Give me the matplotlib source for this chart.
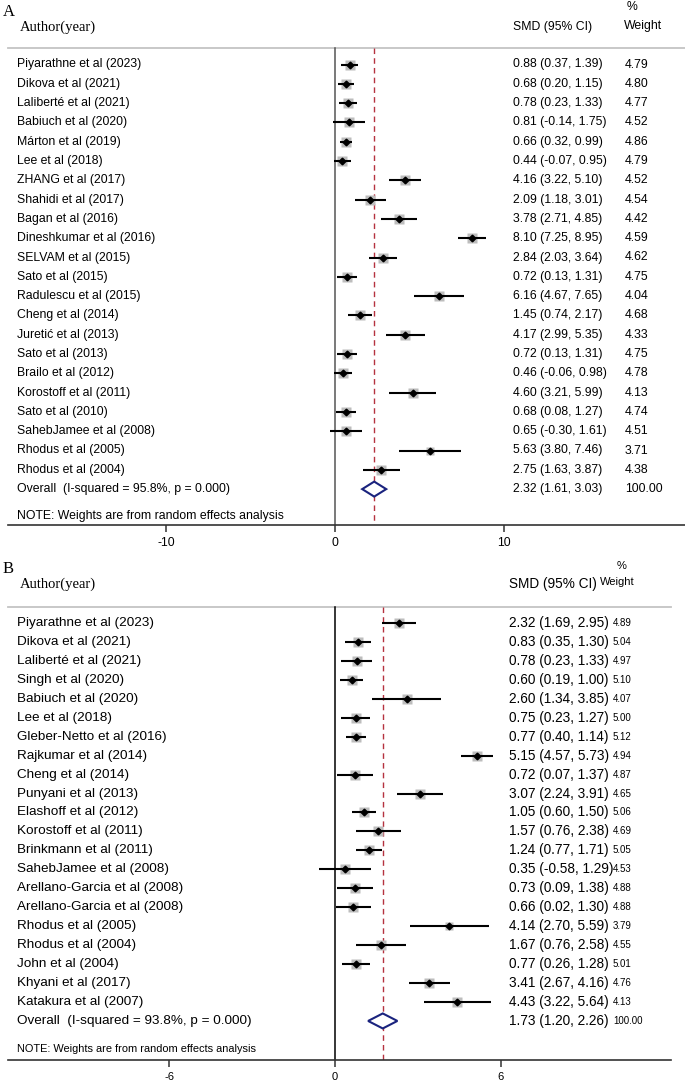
import matplotlib.pyplot as plt
from matplotlib.transforms import blended_transform_factory
from matplotlib.patches import Polygon
import numpy as np

# ---- panel A data ----
a_names = [
    "Piyarathne et al (2023)", "Dikova et al (2021)", "Laliberté et al (2021)",
    "Babiuch et al (2020)", "Márton et al (2019)", "Lee et al (2018)",
    "ZHANG et al (2017)", "Shahidi et al (2017)", "Bagan et al (2016)",
    "Dineshkumar et al (2016)", "SELVAM et al (2015)", "Sato et al (2015)",
    "Radulescu et al (2015)", "Cheng et al (2014)", "Juretić et al (2013)",
    "Sato et al (2013)", "Brailo et al (2012)", "Korostoff et al (2011)",
    "Sato et al (2010)", "SahebJamee et al (2008)", "Rhodus et al (2005)",
    "Rhodus et al (2004)",
]
a_smd = [0.88, 0.68, 0.78, 0.81, 0.66, 0.44, 4.16, 2.09, 3.78, 8.10, 2.84,
         0.72, 6.16, 1.45, 4.17, 0.72, 0.46, 4.60, 0.68, 0.65, 5.63, 2.75]
a_lo = [0.37, 0.20, 0.23, -0.14, 0.32, -0.07, 3.22, 1.18, 2.71, 7.25, 2.03,
        0.13, 4.67, 0.74, 2.99, 0.13, -0.06, 3.21, 0.08, -0.30, 3.80, 1.63]
a_hi = [1.39, 1.15, 1.33, 1.75, 0.99, 0.95, 5.10, 3.01, 4.85, 8.95, 3.64,
        1.31, 7.65, 2.17, 5.35, 1.31, 0.98, 5.99, 1.27, 1.61, 7.46, 3.87]
a_w = [4.79, 4.80, 4.77, 4.52, 4.86, 4.79, 4.52, 4.54, 4.42, 4.59, 4.62,
       4.75, 4.04, 4.68, 4.33, 4.75, 4.78, 4.13, 4.74, 4.51, 3.71, 4.38]
a_overall = (2.32, 1.61, 3.03)
a_overall_label = "Overall  (I-squared = 95.8%, p = 0.000)"
a_ticks = [-10, 0, 10]

# ---- panel B data ----
b_names = [
    "Piyarathne et al (2023)", "Dikova et al (2021)", "Laliberté et al (2021)",
    "Singh et al (2020)", "Babiuch et al (2020)", "Lee et al (2018)",
    "Gleber-Netto et al (2016)", "Rajkumar et al (2014)", "Cheng et al (2014)",
    "Punyani et al (2013)", "Elashoff et al (2012)", "Korostoff et al (2011)",
    "Brinkmann et al (2011)", "SahebJamee et al (2008)",
    "Arellano-Garcia et al (2008)", "Arellano-Garcia et al (2008)",
    "Rhodus et al (2005)", "Rhodus et al (2004)", "John et al (2004)",
    "Khyani et al (2017)", "Katakura et al (2007)",
]
b_smd = [2.32, 0.83, 0.78, 0.60, 2.60, 0.75, 0.77, 5.15, 0.72, 3.07, 1.05,
         1.57, 1.24, 0.35, 0.73, 0.66, 4.14, 1.67, 0.77, 3.41, 4.43]
b_lo = [1.69, 0.35, 0.23, 0.19, 1.34, 0.23, 0.40, 4.57, 0.07, 2.24, 0.60,
        0.76, 0.77, -0.58, 0.09, 0.02, 2.70, 0.76, 0.26, 2.67, 3.22]
b_hi = [2.95, 1.30, 1.33, 1.00, 3.85, 1.27, 1.14, 5.73, 1.37, 3.91, 1.50,
        2.38, 1.71, 1.29, 1.38, 1.30, 5.59, 2.58, 1.28, 4.16, 5.64]
b_w = [4.89, 5.04, 4.97, 5.10, 4.07, 5.00, 5.12, 4.94, 4.87, 4.65, 5.06,
       4.69, 5.05, 4.53, 4.88, 4.88, 3.79, 4.55, 5.01, 4.76, 4.13]
b_overall = (1.73, 1.20, 2.26)
b_overall_label = "Overall  (I-squared = 93.8%, p = 0.000)"
b_ticks = [-6, 0, 6]

W, H = 685, 1082
fig = plt.figure(figsize=(W / 100, H / 100), dpi=100)
SANS = "Liberation Sans"
SERIF = "Liberation Serif"


def panel(letter, names, smd, lo, hi, w, overall, ov_label, ticks, cfg):
    top, bottom = cfg["top"], cfg["bottom"]
    ax = fig.add_axes([0, 1 - bottom / H, 1, (bottom - top) / H])
    ax.patch.set_alpha(0)
    ppu = cfg["ppu"]
    x0 = cfg["x0"]
    ax.set_xlim(-x0 / ppu, (W - x0) / ppu)
    r0, dr = cfg["row0"], cfg["drow"]
    # y in pixel coordinates from the top of the figure
    ax.set_ylim(bottom, top)

    n = len(names)
    ys = r0 + dr * np.arange(n + 1)
    tr = blended_transform_factory(ax.transAxes, ax.transData)
    px = lambda p: p / W

    # header
    ax.text(px(3), cfg["y_letter"], letter, transform=tr, family=SERIF,
            fontsize=12, va="center", ha="left")
    ax.text(px(20), cfg["y_head"], "Author(year)", transform=tr, family=SERIF,
            fontsize=cfg["fs_head"], va="center")
    ax.text(px(cfg["x_smd"]), cfg["y_head"], "SMD (95% CI)", transform=tr,
            family=SANS, fontsize=cfg["fs_smd"], va="center")
    ax.text(px(cfg["x_pct"]), cfg["y_pct"], "%", transform=tr, family=SANS,
            fontsize=cfg["fs_wh"], va="center")
    ax.text(px(cfg["x_wh"]), cfg["y_wh"], "Weight", transform=tr, family=SANS,
            fontsize=cfg["fs_wh"], va="center")
    ax.plot([px(8), px(cfg["x_end"])], [cfg["y_rule"]] * 2, transform=tr,
            color="#c4c4c4", lw=1.3, clip_on=False)

    # reference lines
    ax.plot([0, 0], [cfg["y_rule"], bottom], color=cfg["zero_col"], lw=1.1)
    ax.plot([overall[0]] * 2, [cfg["y_rule"], bottom], color="#b5323f",
            lw=1.0, ls=(0, (4, 3)))

    # studies
    for i in range(n):
        y = ys[i]
        ax.plot(smd[i], y, marker="s", ms=3.25 * np.sqrt(w[i]),
                color="#bdbdbd", mec="none", zorder=2)
        ax.plot([lo[i], hi[i]], [y, y], color="black", lw=1.5,
                solid_capstyle="butt", zorder=3)
        ax.plot(smd[i], y, marker="D", ms=3.4, color="black", zorder=4)
        ax.text(px(17), y, names[i], transform=tr, family=SANS,
                fontsize=cfg["fs_lab"], va="center")
        ax.text(px(cfg["x_smd"]), y, f"{smd[i]:.2f} ({lo[i]:.2f}, {hi[i]:.2f})",
                transform=tr, family=SANS, fontsize=cfg["fs_smd"], va="center")
        ax.text(px(cfg["x_w"]), y, f"{w[i]:.2f}", transform=tr, family=SANS,
                fontsize=cfg["fs_w"], va="center")

    # overall diamond
    yo = ys[n]
    hh = 7.5
    est, olo, ohi = overall
    ax.add_patch(Polygon([[olo, yo], [est, yo - hh], [ohi, yo], [est, yo + hh]],
                         closed=True, fc="white", ec="#1a237e", lw=1.5, zorder=5))
    ax.text(px(17), yo, ov_label, transform=tr, family=SANS,
            fontsize=cfg["fs_lab"], va="center")
    ax.text(px(cfg["x_smd"]), yo, f"{est:.2f} ({olo:.2f}, {ohi:.2f})",
            transform=tr, family=SANS, fontsize=cfg["fs_smd"], va="center")
    ax.text(px(cfg["x_w"]), yo, "100.00", transform=tr, family=SANS,
            fontsize=cfg["fs_w"], va="center")
    ax.text(px(17), cfg["y_note"], "NOTE: Weights are from random effects analysis",
            transform=tr, family=SANS, fontsize=cfg["fs_note"], va="center")

    # axis
    for s in ["top", "left", "right"]:
        ax.spines[s].set_visible(False)
    ax.spines["bottom"].set_color("#333333")
    ax.spines["bottom"].set_linewidth(1.2)
    ax.spines["bottom"].set_bounds((8 - x0) / ppu, (cfg["x_end"] - x0) / ppu)
    ax.set_yticks([])
    ax.set_xticks(ticks)
    ax.set_xticklabels([str(t) for t in ticks], family=SANS,
                       fontsize=cfg["fs_tick"])
    ax.tick_params(axis="x", direction="out", length=5, width=1.1,
                   color="#333333", pad=3.5)
    return ax


cfg_a = dict(top=0, bottom=525, x0=335, ppu=16.9, row0=64.5, drow=19.3,
             y_letter=12, y_head=27, y_pct=7, y_wh=26, y_rule=48, y_note=516,
             x_smd=513, x_w=625, x_pct=627, x_wh=624, x_end=685,
             fs_head=10.5, fs_lab=8.8, fs_smd=8.8, fs_w=8.8, fs_wh=8.8,
             fs_note=8.8, fs_tick=8.8, zero_col="#555555")
cfg_b = dict(top=550, bottom=1060, x0=335, ppu=27.6, row0=623, drow=18.95,
             y_letter=569, y_head=584, y_pct=566, y_wh=582, y_rule=607,
             y_note=1049, x_smd=509, x_w=613, x_pct=617, x_wh=600, x_end=671,
             fs_head=10.5, fs_lab=9.7, fs_smd=9.8, fs_w=7.0, fs_wh=8.0,
             fs_note=7.9, fs_tick=8.0, zero_col="black")

panel("A", a_names, a_smd, a_lo, a_hi, a_w, a_overall, a_overall_label,
      a_ticks, cfg_a)
panel("B", b_names, b_smd, b_lo, b_hi, b_w, b_overall, b_overall_label,
      b_ticks, cfg_b)

fig.savefig("out.png", dpi=100, facecolor="white")
